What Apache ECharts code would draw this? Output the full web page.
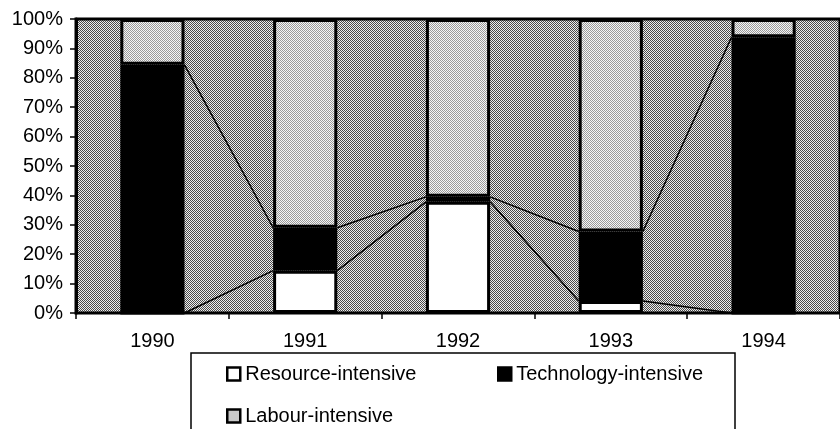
<!DOCTYPE html>
<html>
<head>
<meta charset="utf-8">
<script src="https://cdn.jsdelivr.net/npm/echarts@6/dist/echarts.min.js"></script>
<style>
  html, body { margin: 0; padding: 0; background: #fff; }
  #chart { width: 840px; height: 429px; }
</style>
</head>
<body>
<div id="chart"></div>
<script>
// data (share of exports, %)
const years = ['1990', '1991', '1992', '1993', '1994']
const resource = [0, 14.4, 37.8, 4.1, 0]
const technology = [84.4, 14.6, 1.7, 23.6, 93.8]
const labour = [15.6, 71.0, 60.5, 72.3, 6.2]

const BAR_FRAC = 0.42

// little dotted fills like the old printout
function dots(dark, light) {
  const c = document.createElement('canvas')
  c.width = 2
  c.height = 2
  const ctx = c.getContext('2d')
  ctx.fillStyle = light
  ctx.fillRect(0, 0, 2, 2)
  ctx.fillStyle = dark
  ctx.fillRect(0, 0, 1, 1)
  ctx.fillRect(1, 1, 1, 1)
  return { image: c, repeat: 'repeat' }
}
const bgFill = dots('#4a4a4a', '#eeeeee')
const labourFill = dots('#9a9a9a', '#f6f6f6')

// series lines between bars, from the stacked tops
const cumRes = resource.slice()
const cumTech = resource.map((v, i) => v + technology[i])
const cumLab = cumTech.map((v, i) => v + labour[i])
const links = cum => cum.slice(0, -1).map((v, i) => [i, v, cum[i + 1]])

const renderLink = (params, api) => {
  const i = api.value(0)
  const a = api.coord([i, api.value(1)])
  const b = api.coord([i + 1, api.value(2)])
  const half = api.size([1, 0])[0] * BAR_FRAC / 2
  return {
    type: 'line',
    shape: { x1: a[0] + half, y1: a[1], x2: b[0] - half, y2: b[1] },
    style: { stroke: '#000', lineWidth: 1.5 }
  }
}

const barStyle = color => ({ color: color, borderColor: '#000', borderWidth: 3 })
const legendBase = {
  orient: 'horizontal',
  padding: 0,
  icon: 'rect',
  itemWidth: 13,
  itemHeight: 13,
  itemGap: 5,
  itemStyle: { borderColor: '#000', borderWidth: 2.5 },
  textStyle: { fontSize: 20, color: '#000', fontFamily: 'Liberation Sans' }
}

const chart = echarts.init(document.getElementById('chart'))
chart.setOption({
  animation: false,
  textStyle: { fontFamily: 'Liberation Sans' },
  grid: {
    left: 76,
    right: -11,
    top: 19,
    bottom: 116,
    show: true,
    backgroundColor: bgFill,
    borderColor: '#000',
    borderWidth: 3
  },
  graphic: [{
    type: 'rect',
    shape: { x: 191, y: 353, width: 544, height: 100 },
    style: { fill: '#fff', stroke: '#000', lineWidth: 1.5 },
    z: -1
  }],
  legend: [
    Object.assign({ data: ['Resource-intensive'], left: 226, top: 364 }, legendBase),
    Object.assign({ data: ['Technology-intensive'], left: 497, top: 364 }, legendBase),
    Object.assign({ data: ['Labour-intensive'], left: 226, top: 406 }, legendBase)
  ],
  xAxis: {
    type: 'category',
    data: years,
    axisLine: { lineStyle: { color: '#000', width: 2 } },
    axisTick: { show: true, alignWithLabel: false, length: 6, lineStyle: { color: '#000', width: 1.5 } },
    axisLabel: { fontSize: 20, color: '#000', margin: 18, interval: 0 }
  },
  yAxis: {
    type: 'value',
    min: 0,
    max: 100,
    interval: 10,
    axisLine: { show: true, lineStyle: { color: '#000', width: 3 } },
    axisTick: { show: true, length: 6, lineStyle: { color: '#000', width: 1.5 } },
    axisLabel: { fontSize: 20, color: '#000', margin: 13, formatter: '{value}%' },
    splitLine: { show: false }
  },
  series: [
    { name: 'Resource-intensive', type: 'bar', stack: 'all', barWidth: '42%', data: resource, itemStyle: barStyle('#ffffff') },
    { name: 'Technology-intensive', type: 'bar', stack: 'all', barWidth: '42%', data: technology, itemStyle: barStyle('#000000') },
    { name: 'Labour-intensive', type: 'bar', stack: 'all', barWidth: '42%', data: labour, itemStyle: barStyle(labourFill) },
    { type: 'custom', renderItem: renderLink, data: links(cumRes), encode: { x: 0, y: [1, 2] }, silent: true },
    { type: 'custom', renderItem: renderLink, data: links(cumTech), encode: { x: 0, y: [1, 2] }, silent: true },
    { type: 'custom', renderItem: renderLink, data: links(cumLab), encode: { x: 0, y: [1, 2] }, silent: true }
  ]
})
</script>
</body>
</html>
